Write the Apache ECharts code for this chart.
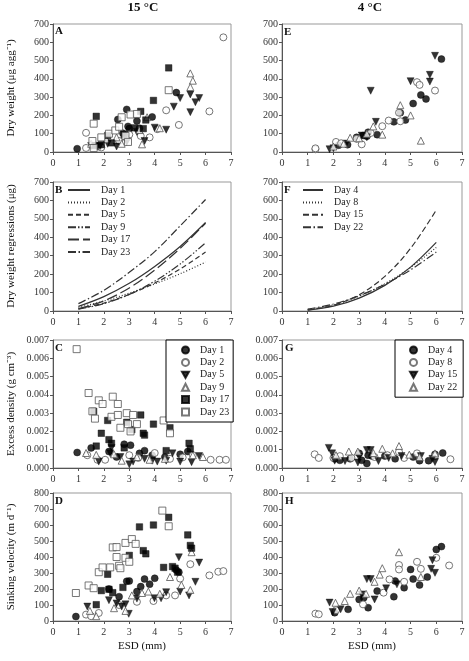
<!DOCTYPE html>
<html><head><meta charset="utf-8">
<script src="https://cdn.jsdelivr.net/npm/echarts@6/dist/echarts.min.js"></script>
<style>html,body{margin:0;padding:0;background:#fff}#c{width:469px;height:661px}</style>
</head><body><div id="c"></div>
<script>
// ---------- DATA ----------
const xTicks = [0,1,2,3,4,5,6,7];
const days15 = ['Day 1','Day 2','Day 5','Day 9','Day 17','Day 23'];
const days4  = ['Day 4','Day 8','Day 15','Day 22'];

// Panel A: dry weight, 15 °C (ESD mm, µg agg-1)
const A_day1  = [[0.95,18],[1.8,30],[2.55,178],[2.9,233],[2.95,140],[3.0,128],[2.75,103],[3.3,170],[3.4,130],[3.9,192],[4.85,325]];
const A_day2  = [[1.3,105],[1.3,22],[1.9,25],[2.6,60],[3.0,95],[3.45,88],[3.8,80],[4.1,125],[4.45,228],[4.95,148],[6.15,222],[6.7,627]];
const A_day5  = [[1.5,33],[1.85,33],[2.15,45],[2.5,30],[2.9,55],[3.3,110],[3.6,60],[4.0,133],[4.45,122],[4.75,248],[5.0,295],[5.4,218],[5.4,315],[5.6,272],[5.75,295]];
const A_day9  = [[1.5,45],[2.1,70],[2.5,80],[2.7,45],[2.9,85],[3.4,120],[3.5,42],[3.7,190],[4.2,130],[5.4,430],[5.5,390],[5.4,355]];
const A_day17 = [[1.65,35],[1.7,195],[1.9,40],[2.15,90],[2.3,50],[2.8,95],[3.2,132],[3.45,222],[3.55,128],[3.65,175],[3.95,282],[4.55,460]];
const A_day23 = [[1.55,60],[1.6,155],[1.6,22],[1.9,80],[2.2,100],[2.45,118],[2.6,138],[2.7,190],[2.85,88],[2.95,55],[3.05,205],[3.3,208],[4.55,338]];

// Panel E: dry weight, 4 °C
const E_day4  = [[2.2,37],[2.55,40],[2.9,80],[3.15,90],[3.3,86],[3.35,108],[3.7,95],[4.35,165],[4.6,215],[4.8,175],[5.1,265],[5.4,312],[5.6,290],[6.2,508]];
const E_day8  = [[1.3,15],[1.3,20],[2.1,55],[2.3,48],[2.9,72],[3.1,42],[3.45,104],[3.9,141],[4.15,172],[4.55,215],[4.6,168],[5.25,382],[5.35,367],[5.95,336]];
const E_day15 = [[1.85,15],[2.0,20],[2.5,46],[3.1,90],[3.3,80],[3.45,335],[3.65,165],[5.0,387],[5.75,422],[5.75,385],[5.95,526]];
const E_day22 = [[2.0,30],[2.4,45],[2.65,78],[3.0,75],[3.3,100],[3.55,140],[3.9,95],[4.6,256],[5.0,200],[5.4,62]];

// Panel B: dry weight regressions, 15 °C (read at ESD 1..6)
const regX = [1,2,3,4,5,6];
const B_day1  = [25,78,150,242,350,480];
const B_day2  = [20,54,97,147,202,265];
const B_day5  = [12,43,90,152,228,320];
const B_day9  = [10,40,90,162,255,370];
const B_day17 = [12,55,125,222,340,476];
const B_day23 = [40,112,210,322,462,605];

// Panel F: dry weight regressions, 4 °C
const F_day4  = [5,26,70,139,238,372];
const F_day8  = [8,34,81,148,236,345];
const F_day15 = [5,31,88,188,340,548];
const F_day22 = [10,38,83,145,223,320];

// Panel C: excess density, 15 °C (g cm-3)
const C_day1  = [[0.95,0.00085],[1.5,0.0011],[2.2,0.0009],[2.5,0.0006],[2.8,0.0013],[3.05,0.00125],[3.4,0.0008],[3.6,0.00095],[3.9,0.0007],[4.4,0.0006],[5.0,0.00075],[5.3,0.0009]];
const C_day2  = [[1.35,0.0007],[1.75,0.00045],[2.05,0.00045],[3.0,0.0007],[3.35,0.00055],[4.0,0.00082],[4.6,0.0005],[5.1,0.00058],[5.5,0.0007],[6.2,0.00045],[6.55,0.00045],[6.8,0.00045]];
const C_day5  = [[1.8,0.00035],[2.25,0.0008],[2.3,0.0011],[2.65,0.0006],[3.0,0.0002],[3.15,0.00035],[3.6,0.0005],[3.9,0.0004],[4.1,0.00035],[4.45,0.0004],[4.7,0.0008],[5.0,0.00035],[5.45,0.00032],[5.75,0.00065]];
const C_day9  = [[1.3,0.00082],[1.7,0.00072],[2.4,0.00075],[2.7,0.0004],[3.3,0.0006],[3.8,0.00045],[4.4,0.0005],[5.5,0.0007],[5.9,0.0006]];
const C_day17 = [[1.6,0.0031],[1.7,0.0012],[1.9,0.0019],[2.15,0.0026],[2.2,0.00155],[2.3,0.00135],[2.8,0.0011],[2.9,0.0025],[3.1,0.0021],[3.45,0.0029],[3.55,0.0019],[3.6,0.0018],[3.95,0.0024],[4.45,0.00095],[4.6,0.0022],[5.35,0.00135],[5.4,0.00105]];
const C_day23 = [[0.93,0.0065],[1.4,0.0041],[1.55,0.0031],[1.65,0.0027],[1.8,0.0037],[1.95,0.0035],[2.3,0.0028],[2.35,0.0039],[2.55,0.0035],[2.55,0.0029],[2.65,0.0022],[2.9,0.003],[2.95,0.0024],[3.05,0.002],[3.15,0.0029],[3.3,0.0024],[4.35,0.0026],[4.6,0.0019]];

// Panel G: excess density, 4 °C
const G_day4  = [[2.05,0.0005],[2.25,0.00042],[2.65,0.0005],[3.0,0.0008],[3.1,0.00042],[3.3,0.00025],[3.35,0.0007],[3.5,0.00065],[4.0,0.00065],[4.4,0.0005],[5.1,0.0006],[5.35,0.0004],[5.7,0.0004],[5.95,0.00075],[6.25,0.00082]];
const G_day8  = [[1.27,0.00075],[1.43,0.00055],[2.0,0.00055],[2.25,0.00065],[2.7,0.00055],[3.6,0.0006],[4.1,0.0007],[4.55,0.00088],[4.75,0.00055],[5.25,0.0008],[5.95,0.00065],[6.55,0.00048]];
const G_day15 = [[1.82,0.0011],[1.95,0.0008],[2.05,0.0004],[2.45,0.00038],[2.95,0.0003],[3.0,0.0006],[3.3,0.00098],[3.45,0.00098],[3.75,0.00038],[4.15,0.00055],[4.65,0.00065],[5.4,0.00065],[5.85,0.0005],[5.95,0.00033]];
const G_day22 = [[2.1,0.0007],[2.6,0.0009],[2.95,0.0009],[3.55,0.00082],[3.9,0.00105],[4.3,0.0008],[4.55,0.0012],[4.95,0.00073],[5.35,0.0006],[5.95,0.0008]];

// Panel D: sinking velocity, 15 °C (m d-1)
const D_day1  = [[0.9,28],[2.2,200],[2.6,152],[2.9,248],[3.0,250],[3.3,184],[3.45,215],[3.6,262],[3.8,230],[4.0,267],[4.85,318],[4.95,305]];
const D_day2  = [[1.3,40],[1.5,30],[1.8,50],[2.6,100],[3.3,120],[3.95,125],[4.45,160],[4.8,160],[5.0,265],[5.4,355],[6.15,285],[6.5,308],[6.7,312]];
const D_day5  = [[1.35,90],[2.2,130],[2.5,110],[2.7,90],[2.85,104],[2.98,45],[3.3,140],[3.99,142],[4.25,142],[4.45,180],[4.95,398],[5.0,184],[5.35,160],[5.6,245],[5.75,365]];
const D_day9  = [[1.45,63],[1.7,30],[2.4,80],[2.85,63],[3.1,160],[3.5,175],[3.75,184],[4.2,170],[4.6,275],[5.05,225],[5.4,194],[5.45,430]];
const D_day17 = [[1.7,102],[1.9,190],[2.15,292],[2.2,198],[2.35,177],[2.75,210],[3.0,410],[3.4,588],[3.55,440],[3.65,420],[3.95,600],[4.35,335],[4.55,648],[4.7,340],[4.8,330],[4.9,305],[5.3,538],[5.4,472],[5.45,455]];
const D_day23 = [[0.9,175],[1.4,222],[1.6,205],[1.8,305],[1.95,335],[2.25,335],[2.35,460],[2.5,462],[2.5,400],[2.6,345],[2.65,330],[2.85,395],[2.85,488],[3.0,370],[3.1,512],[3.25,482],[4.3,690],[4.55,592]];

// Panel H: sinking velocity, 4 °C
const H_day4  = [[2.05,52],[2.57,73],[3.0,135],[3.18,146],[3.35,83],[3.7,187],[4.35,152],[4.4,250],[4.75,208],[5.0,322],[5.1,262],[5.35,225],[5.65,275],[6.0,447],[6.2,465]];
const H_day8  = [[1.3,46],[1.43,42],[2.1,67],[3.15,104],[3.95,177],[4.18,260],[4.55,350],[4.55,322],[4.75,245],[5.25,370],[5.4,326],[6.0,395],[6.5,347]];
const H_day15 = [[1.85,115],[1.97,56],[2.28,73],[3.1,166],[3.3,262],[3.45,262],[3.6,135],[4.05,204],[4.47,229],[5.8,326],[5.95,301],[5.85,380]];
const H_day22 = [[2.08,114],[2.44,125],[2.65,170],[3.0,190],[3.27,170],[3.6,245],[3.8,290],[3.9,330],[4.55,430],[5.4,275]];

// ---------- CHART ----------
const FF = '"Liberation Serif","Times New Roman",serif';
const grids = [
  {left:53, top:24,  width:178, height:128}, // A
  {left:282,top:24,  width:180, height:128}, // E
  {left:53, top:182, width:178, height:129}, // B
  {left:282,top:182, width:180, height:129}, // F
  {left:53, top:340, width:178, height:128}, // C
  {left:282,top:340, width:180, height:128}, // G
  {left:53, top:493, width:178, height:128}, // D
  {left:282,top:493, width:180, height:128}  // H
];
const yMax = [700,700,700,700,0.007,0.007,800,800];
const yInt = [100,100,100,100,0.001,0.001,100,100];

const axisCommon = {
  axisLine:{show:true,onZero:false,lineStyle:{color:'#555',width:1}},
  axisTick:{show:true,inside:false,length:3,lineStyle:{color:'#555'}},
  splitLine:{show:false}
};
const xAxes = grids.map((g,i)=>Object.assign({
  type:'value', gridIndex:i, min:xTicks[0], max:xTicks[xTicks.length-1], interval:1,
  axisLabel:{fontSize:10, color:'#333', fontFamily:FF, margin:6}
}, axisCommon));
const yAxes = grids.map((g,i)=>Object.assign({
  type:'value', gridIndex:i, min:0, max:yMax[i], interval:yInt[i],
  axisLabel:{fontSize:10, color:'#333', fontFamily:FF, margin:4,
    formatter: yMax[i] < 1 ? (v)=>v.toFixed(3) : (v)=>String(v)}
}, axisCommon));

const ST = {
  fc:{symbol:'circle', symbolSize:7, itemStyle:{color:'#000', borderColor:'#000', borderWidth:0.5}},
  oc:{symbol:'circle', symbolSize:7, itemStyle:{color:'#fff', borderColor:'#555', borderWidth:1}},
  dt:{symbol:'path://M0,0L10,0L5,9Z', symbolSize:[7,7], itemStyle:{color:'#000', borderColor:'#000', borderWidth:0.5}},
  ot:{symbol:'triangle', symbolSize:7, itemStyle:{color:'#fff', borderColor:'#555', borderWidth:1}},
  fs:{symbol:'rect', symbolSize:6.5, itemStyle:{color:'#000', borderColor:'#000', borderWidth:0.5}},
  os:{symbol:'rect', symbolSize:7, itemStyle:{color:'#fff', borderColor:'#555', borderWidth:1}}
};
const st15 = [ST.fc, ST.oc, ST.dt, ST.ot, ST.fs, ST.os];
const st4  = [ST.fc, ST.oc, ST.dt, ST.ot];

const series = [];
function scat(panel, gi, names, datas, styles){
  names.forEach((n,k)=>{
    const s = JSON.parse(JSON.stringify(styles[k]));
    series.push({
      type:'scatter', name: panel+'|'+n, xAxisIndex:gi, yAxisIndex:gi,
      data: datas[k], symbol:s.symbol, symbolSize:s.symbolSize, itemStyle:s.itemStyle,
      emphasis:{disabled:true}, animation:false
    });
  });
}
function lines(panel, gi, names, ys, types){
  names.forEach((n,k)=>{
    series.push({
      type:'line', name: panel+'|'+n, xAxisIndex:gi, yAxisIndex:gi,
      data: regX.map((x,j)=>[x, ys[k][j]]), smooth:0.35, symbol:'none', showSymbol:false,
      lineStyle:{color:'#333', width:1.2, type:types[k]}, itemStyle:{color:'#333'},
      animation:false, emphasis:{disabled:true}
    });
  });
}
const LT15 = ['solid',[1,2],[5,3],[8,2,1.5,2,1.5,2],[11,4],[8,2.5,1.5,2.5]];
const LT4  = ['solid',[1,2],[6,3],[8,2.5,1.5,2.5]];

scat('A',0,days15,[A_day1,A_day2,A_day5,A_day9,A_day17,A_day23],st15);
scat('E',1,days4,[E_day4,E_day8,E_day15,E_day22],st4);
lines('B',2,days15,[B_day1,B_day2,B_day5,B_day9,B_day17,B_day23],LT15);
lines('F',3,days4,[F_day4,F_day8,F_day15,F_day22],LT4);
scat('C',4,days15,[C_day1,C_day2,C_day5,C_day9,C_day17,C_day23],st15);
scat('G',5,days4,[G_day4,G_day8,G_day15,G_day22],st4);
scat('D',6,days15,[D_day1,D_day2,D_day5,D_day9,D_day17,D_day23],st15);
scat('H',7,days4,[H_day4,H_day8,H_day15,H_day22],st4);

const legFmt = (n)=>n.split('|')[1];
const legTextPad = {fontSize:10, fontFamily:FF, color:'#222', lineHeight:10, padding:[0,0,0,6]};
const legends = [
  {data:days15.map(d=>'B|'+d), left:67, top:185, orient:'vertical', itemWidth:22, itemHeight:8, itemGap:2.4,
   padding:0, formatter:legFmt, textStyle:legTextPad, selectedMode:false, itemStyle:{opacity:0}},
  {data:days4.map(d=>'F|'+d), left:302, top:185, orient:'vertical', itemWidth:20, itemHeight:8, itemGap:2.4,
   padding:0, formatter:legFmt, textStyle:legTextPad, selectedMode:false, itemStyle:{opacity:0}},
  {data:days15.map(d=>'C|'+d), left:166, top:340, orient:'vertical', itemWidth:7, itemHeight:7, itemGap:2.4,
   padding:[5,4,5,15], borderColor:'#000', borderWidth:1, backgroundColor:'#fff',
   formatter:legFmt, textStyle:legTextPad, selectedMode:false},
  {data:days4.map(d=>'G|'+d), left:395, top:340, orient:'vertical', itemWidth:7, itemHeight:7, itemGap:2.4,
   padding:[5,6,5,14], borderColor:'#000', borderWidth:1, backgroundColor:'#fff',
   formatter:legFmt, textStyle:legTextPad, selectedMode:false}
];

function txt(t,x,y,opt){
  opt = opt||{};
  return {type:'text', x:x, y:y, rotation:opt.rot||0, silent:true, z:100,
    style:{text:t, font:(opt.bold?'bold ':'')+(opt.size||11)+'px '+FF, fill:'#111',
      textAlign:opt.align||'center', textVerticalAlign:'middle', align:opt.align||'center', verticalAlign:'middle'}};
}
const graphics = [
  txt('15 °C',143,8,{bold:true,size:13}),
  txt('4 °C',370,8,{bold:true,size:13}),
  txt('Dry weight (μg agg⁻¹)',11,88,{rot:Math.PI/2,size:11}),
  txt('Dry weight regressions (μg)',11,246,{rot:Math.PI/2,size:11}),
  txt('Excess density (g cm⁻³)',11,404,{rot:Math.PI/2,size:11}),
  txt('Sinking velocity (m d⁻¹)',11,557,{rot:Math.PI/2,size:11}),
  txt('ESD (mm)',142,646,{size:11}),
  txt('ESD (mm)',372,646,{size:11}),
  txt('A',55,31,{bold:true,size:11,align:'left'}),
  txt('E',284,32,{bold:true,size:11,align:'left'}),
  txt('B',55,190,{bold:true,size:11,align:'left'}),
  txt('F',284,190,{bold:true,size:11,align:'left'}),
  txt('C',55,348,{bold:true,size:11,align:'left'}),
  txt('G',285,348,{bold:true,size:11,align:'left'}),
  txt('D',55,501,{bold:true,size:11,align:'left'}),
  txt('H',285,501,{bold:true,size:11,align:'left'})
];

const chart = echarts.init(document.getElementById('c'), null, {renderer:'canvas', width:469, height:661});
chart.setOption({
  backgroundColor:'#fff',
  animation:false,
  grid: grids.map(g=>Object.assign({show:true, borderColor:'#999', borderWidth:1, backgroundColor:'transparent', containLabel:false}, g)),
  xAxis: xAxes,
  yAxis: yAxes,
  legend: legends,
  series: series,
  graphic: graphics
});
</script>
</body></html>
